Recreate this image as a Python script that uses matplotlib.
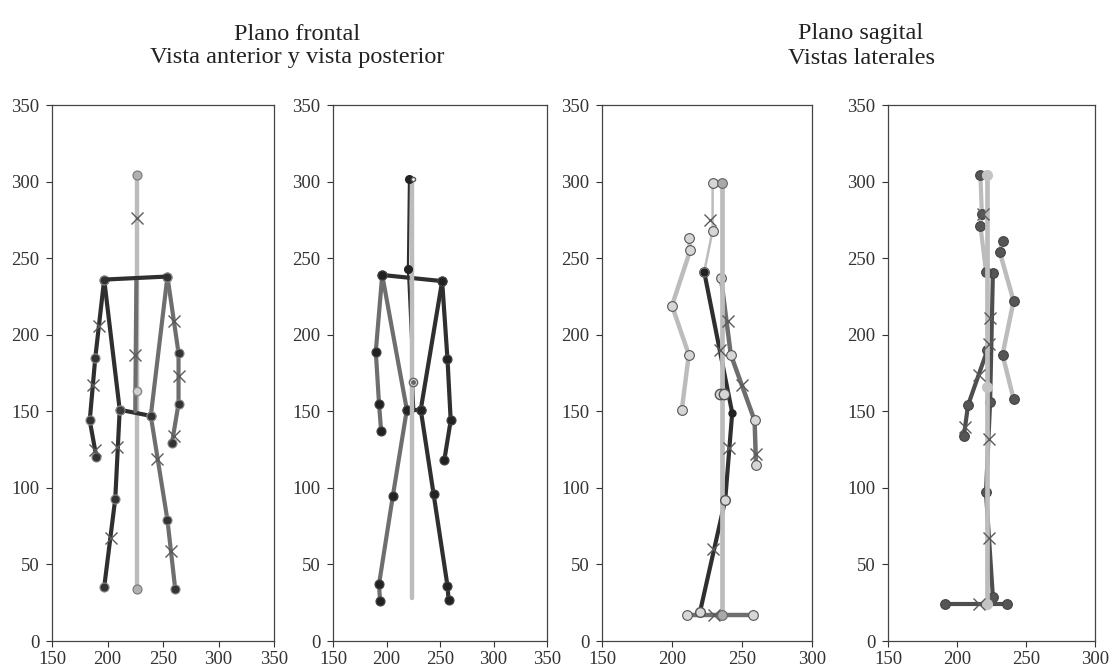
import matplotlib
matplotlib.use('Agg')
import matplotlib.pyplot as plt

plt.rcParams['font.family'] = ['Liberation Serif', 'DejaVu Serif']

LIGHT = '#bcbcbc'
MID = '#6e6e6e'
DARK = '#2f2f2f'

# ── Panel 1: frontal, anterior view ─────────────────────────────────────────
p1_plumb_x = [227, 227]
p1_plumb_y = [304, 34]
p1_trunk_x = [226, 225]
p1_trunk_y = [235, 150]
p1_shoulder_x = [197, 254]
p1_shoulder_y = [236, 238]
p1_larm_x = [197, 189, 184, 190]
p1_larm_y = [236, 185, 144, 120]
p1_lbody_x = [197, 211, 207, 197]
p1_lbody_y = [236, 151, 93, 35]
p1_hip_x = [211, 239]
p1_hip_y = [151, 147]
p1_rbody_x = [254, 239, 254, 261]
p1_rbody_y = [238, 147, 79, 34]
p1_rarm_x = [254, 264, 264, 258]
p1_rarm_y = [238, 188, 155, 129]
p1_cross_x = [227, 225, 192, 187, 189, 209, 203, 245, 257, 260, 264, 260]
p1_cross_y = [276, 187, 206, 167, 125, 127, 67, 119, 59, 209, 173, 134]

# ── Panel 2: frontal, posterior view ────────────────────────────────────────
p2_plumb_x = [224, 224]
p2_plumb_y = [302, 28]
p2_neck_x = [221, 220, 226]
p2_neck_y = [302, 243, 150]
p2_shoulder_x = [196, 252]
p2_shoulder_y = [239, 235]
p2_larm_x = [196, 190, 193, 195]
p2_larm_y = [239, 189, 155, 137]
p2_lbody_x = [196, 219, 206, 193, 194]
p2_lbody_y = [239, 151, 95, 37, 26]
p2_rarm_x = [252, 257, 260, 254]
p2_rarm_y = [235, 184, 144, 118]
p2_rbody_x = [252, 232, 244, 257, 258]
p2_rbody_y = [235, 151, 96, 36, 27]
p2_hip_x = [219, 232]
p2_hip_y = [151, 151]

# ── Panel 3: sagittal, lateral view ─────────────────────────────────────────
p3_plumb_x = [236, 236]
p3_plumb_y = [299, 17]
p3_head_x = [229, 229, 223]
p3_head_y = [299, 268, 241]
p3_arm_x = [212, 213, 200, 212, 207]
p3_arm_y = [263, 255, 219, 187, 151]
p3_dark_x = [223, 243, 238, 220]
p3_dark_y = [241, 149, 92, 19]
p3_mid_x = [235, 242, 259, 260]
p3_mid_y = [237, 187, 144, 115]
p3_foot_x = [211, 258]
p3_foot_y = [17, 17]
p3_extra_x = [234, 237]
p3_extra_y = [161, 161]
p3_cross_x = [227, 234, 241, 229, 240, 250, 260, 230]
p3_cross_y = [275, 190, 126, 60, 209, 167, 122, 17]

# ── Panel 4: sagittal, other lateral view ──────────────────────────────────
p4_plumb_x = [222, 222]
p4_plumb_y = [304, 24]
p4_head_x = [217, 218, 217, 221]
p4_head_y = [304, 279, 271, 241]
p4_arm_x = [233, 231, 241, 233, 241]
p4_arm_y = [261, 254, 222, 187, 158]
p4_leg_x = [226, 224, 221, 226]
p4_leg_y = [240, 156, 97, 29]
p4_fore_x = [222, 208, 205]
p4_fore_y = [190, 154, 134]
p4_foot_x = [191, 236]
p4_foot_y = [24, 24]
p4_cross_x = [219, 224, 223, 223, 223, 216, 206, 216]
p4_cross_y = [279, 211, 194, 132, 67, 174, 140, 24]

W, H = 1109, 666
fig = plt.figure(figsize=(W / 100, H / 100), dpi=100)


def make_ax(left, right, xmax):
    ax = fig.add_axes([left / W, (H - 641) / H, (right - left) / W, 536 / H])
    ax.set_xlim(150, xmax)
    ax.set_ylim(0, 350)
    ax.set_xticks(range(150, xmax + 1, 50))
    ax.set_yticks(range(0, 351, 50))
    ax.tick_params(labelsize=13.5, colors='#333333', length=4.5, width=0.8, pad=2.5)
    ax.tick_params(axis='y', pad=4.5)
    for s in ax.spines.values():
        s.set_color('#444444')
        s.set_linewidth(0.9)
    return ax


def seg(ax, x, y, color, lw=3.0, z=2, ms=0, mfc=None, mec='#888888'):
    ax.plot(x, y, color=color, lw=lw, zorder=z, solid_capstyle='round',
            marker='o' if ms else None, ms=ms, mfc=mfc, mec=mec, mew=0.8)


def crosses(ax, x, y):
    ax.plot(x, y, ls='none', marker='x', ms=8, mew=1.0, color='#5a5a5a', zorder=6)


# panel 1
ax1 = make_ax(52, 274, 350)
seg(ax1, p1_plumb_x, p1_plumb_y, LIGHT, lw=3.2, z=1, ms=6.5, mfc='#b0b0b0', mec='#777777')
seg(ax1, p1_trunk_x, p1_trunk_y, MID, lw=3.0, z=3)
seg(ax1, p1_shoulder_x, p1_shoulder_y, DARK, z=3)
seg(ax1, p1_larm_x, p1_larm_y, DARK, ms=6.5, mfc='#333333')
seg(ax1, p1_lbody_x, p1_lbody_y, DARK, ms=6.5, mfc='#333333')
seg(ax1, p1_hip_x, p1_hip_y, DARK, ms=6.5, mfc='#3a3a3a')
seg(ax1, p1_rbody_x, p1_rbody_y, MID, ms=6.5, mfc='#333333')
seg(ax1, p1_rarm_x, p1_rarm_y, MID, ms=6.5, mfc='#333333')
ax1.plot([227], [163], 'o', ms=6, mfc='#d0d0d0', mec='#888888', zorder=5)
crosses(ax1, p1_cross_x, p1_cross_y)

# panel 2
ax2 = make_ax(333, 547, 350)
seg(ax2, p2_neck_x, p2_neck_y, DARK, lw=1.6, z=1)
seg(ax2, p2_shoulder_x, p2_shoulder_y, DARK, z=2)
seg(ax2, p2_plumb_x, p2_plumb_y, LIGHT, lw=3.2, z=3)
seg(ax2, p2_larm_x, p2_larm_y, MID, ms=6.5, mfc='#222222', mec='#444444')
seg(ax2, p2_lbody_x, p2_lbody_y, MID, ms=6.5, mfc='#222222', mec='#444444')
seg(ax2, p2_rarm_x, p2_rarm_y, DARK, ms=6.5, mfc='#222222', mec='#444444')
seg(ax2, p2_rbody_x, p2_rbody_y, DARK, ms=6.5, mfc='#222222', mec='#444444')
seg(ax2, p2_hip_x, p2_hip_y, DARK, ms=6.5, mfc='#222222', mec='#444444')
ax2.plot([221, 220], [302, 243], 'o', ms=5.5, color='#222222', zorder=5)
ax2.plot([225], [302], 'o', ms=3, mfc='white', mec='#555555', zorder=6)
ax2.plot([225], [169], 'o', ms=6, mfc='#dddddd', mec='#666666', zorder=6)
ax2.plot([225], [169], 'o', ms=2.5, mfc='#666666', mec='#666666', zorder=7)

# panel 3
ax3 = make_ax(602, 812, 300)
P3_FILL = '#d6d6d6'
seg(ax3, p3_dark_x, p3_dark_y, DARK, lw=3.0, z=2)
seg(ax3, p3_plumb_x, p3_plumb_y, LIGHT, lw=3.4, z=3, ms=7, mfc='#a8a8a8', mec='#666666')
seg(ax3, p3_head_x, p3_head_y, LIGHT, lw=1.8, z=2, ms=7, mfc=P3_FILL, mec='#555555')
seg(ax3, p3_arm_x, p3_arm_y, LIGHT, lw=3.2, z=2, ms=7, mfc=P3_FILL, mec='#555555')
seg(ax3, p3_mid_x, p3_mid_y, MID, lw=3.2, z=2, ms=7, mfc=P3_FILL, mec='#555555')
seg(ax3, p3_foot_x, p3_foot_y, MID, lw=3.2, z=2, ms=7, mfc=P3_FILL, mec='#555555')
ax3.plot(p3_dark_x[2:], p3_dark_y[2:], 'o', ms=7, mfc=P3_FILL, mec='#555555', zorder=5)
ax3.plot(p3_dark_x[:2], p3_dark_y[:2], 'o', ms=5, color='#222222', zorder=5)
ax3.plot(p3_extra_x, p3_extra_y, 'o', ms=7.5, mfc=P3_FILL, mec='#555555', zorder=5)
crosses(ax3, p3_cross_x, p3_cross_y)

# panel 4
ax4 = make_ax(888, 1095, 300)
P4_FILL = '#555555'
seg(ax4, p4_leg_x, p4_leg_y, '#4e4e4e', lw=3.0, z=2, ms=7, mfc=P4_FILL, mec='#444444')
seg(ax4, p4_plumb_x, p4_plumb_y, LIGHT, lw=3.4, z=3)
seg(ax4, p4_head_x, p4_head_y, LIGHT, lw=3.0, z=2, ms=7, mfc=P4_FILL, mec='#444444')
seg(ax4, p4_arm_x, p4_arm_y, LIGHT, lw=3.2, z=2, ms=7, mfc=P4_FILL, mec='#444444')
seg(ax4, p4_fore_x, p4_fore_y, '#4e4e4e', lw=3.0, z=2, ms=7, mfc=P4_FILL, mec='#444444')
seg(ax4, p4_foot_x, p4_foot_y, '#4e4e4e', lw=3.0, z=2, ms=7, mfc=P4_FILL, mec='#444444')
ax4.plot([222, 222, 222], [304, 166, 24], 'o', ms=7, color='#c4c4c4', zorder=5)
crosses(ax4, p4_cross_x, p4_cross_y)

# titles
fig.text(297 / W, 1 - 34 / H, 'Plano frontal', ha='center', va='center', fontsize=17.5, color='#222222')
fig.text(297 / W, 1 - 58 / H, 'Vista anterior y vista posterior', ha='center', va='center',
         fontsize=17.5, color='#222222')
fig.text(861 / W, 1 - 34 / H, 'Plano sagital', ha='center', va='center', fontsize=17.5, color='#222222')
fig.text(861 / W, 1 - 58 / H, 'Vistas laterales', ha='center', va='center', fontsize=17.5, color='#222222')

fig.savefig('out.png', dpi=100)
